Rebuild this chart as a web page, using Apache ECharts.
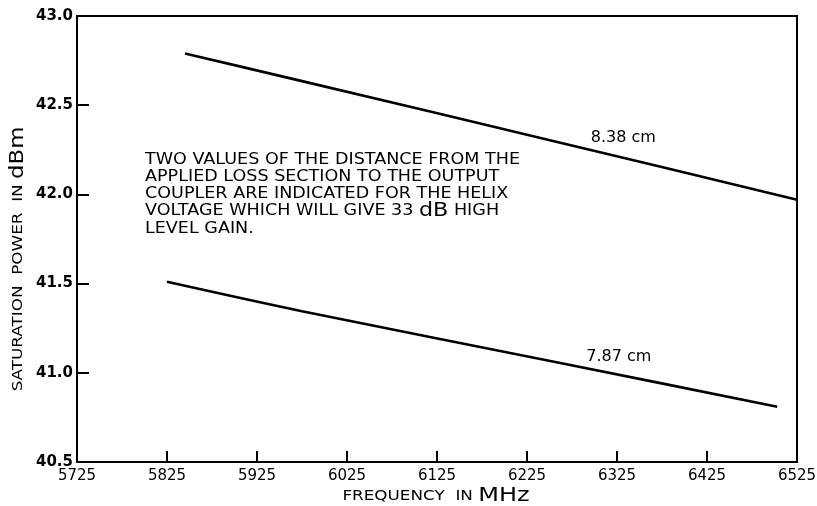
<!DOCTYPE html>
<html>
<head>
<meta charset="utf-8">
<script src="https://cdn.jsdelivr.net/npm/echarts@6/dist/echarts.min.js"></script>
<style>
html,body{margin:0;padding:0;background:#fff;}
#chart{width:817px;height:506px;}
</style>
</head>
<body>
<div id="chart"></div>
<script>
// ---- data ----
const freqTicks = [5725, 5825, 5925, 6025, 6125, 6225, 6325, 6425, 6525];
const powerTicks = [40.5, 41.0, 41.5, 42.0, 42.5, 43.0];

const upperFreq = [5845, 5975, 6262, 6525];
const upperPower = [42.79, 42.635, 42.29, 41.97];
const lowerFreq = [5825, 5975, 6262, 6503];
const lowerPower = [41.51, 41.345, 41.055, 40.81];

const curveLabels = ['8.38 cm', '7.87 cm'];
const curveLabelFreq = [6332, 6327];
const curveLabelPower = [42.316, 41.09];

const noteLines = [
  'TWO VALUES OF THE DISTANCE FROM THE',
  'APPLIED LOSS SECTION TO THE OUTPUT',
  'COUPLER ARE INDICATED FOR THE HELIX',
  'VOLTAGE WHICH WILL GIVE 33 {db|dB} HIGH',
  'LEVEL GAIN.'
];

// ---- chart ----
const FONT = '"DejaVu Sans", sans-serif';
const pair = (xs, ys) => xs.map((x, i) => [x, ys[i]]);

const chart = echarts.init(document.getElementById('chart'), null, {renderer: 'canvas'});

function lineSeries(xs, ys, label, lf, lp) {
  return {
    type: 'line',
    data: pair(xs, ys),
    showSymbol: false,
    symbol: 'none',
    smooth: 0.3,
    lineStyle: {color: '#000', width: 2.6},
    silent: true,
    markPoint: {
      symbol: 'circle',
      symbolSize: 0,
      silent: true,
      data: [{
        coord: [lf, lp],
        label: {
          show: true,
          position: 'inside',
          formatter: label,
          color: '#000',
          fontFamily: FONT,
          fontSize: 16
        }
      }]
    }
  };
}

chart.setOption({
  backgroundColor: '#fff',
  animation: false,
  grid: {
    left: 77, right: 20, top: 16, bottom: 44,
    outerBoundsMode: 'none',
    containLabel: false,
    show: true, borderColor: '#000', borderWidth: 2, backgroundColor: 'transparent'
  },
  xAxis: {
    type: 'value',
    min: freqTicks[0],
    max: freqTicks[freqTicks.length - 1],
    axisLine: {show: true, lineStyle: {color: '#000', width: 2}},
    axisTick: {show: true, inside: true, length: 11, lineStyle: {color: '#000', width: 2}, customValues: freqTicks},
    axisLabel: {
      customValues: freqTicks,
      color: '#000', fontFamily: FONT, fontSize: 15, margin: 7,
      formatter: v => String(v)
    },
    splitLine: {show: false}
  },
  yAxis: {
    type: 'value',
    min: powerTicks[0],
    max: powerTicks[powerTicks.length - 1],
    interval: 0.5,
    axisLine: {show: true, lineStyle: {color: '#000', width: 2}},
    axisTick: {show: true, inside: true, length: 12, lineStyle: {color: '#000', width: 2}},
    axisLabel: {
      color: '#000', fontFamily: FONT, fontSize: 15, fontWeight: 'bold', margin: 4,
      formatter: v => v.toFixed(1)
    },
    splitLine: {show: false}
  },
  graphic: [
    {
      type: 'text',
      x: 18, y: 259,
      rotation: Math.PI / 2,
      scaleX: 1.2,
      silent: true,
      style: {
        text: '{s|SATURATION  POWER  IN }{b|dBm}',
        align: 'center',
        verticalAlign: 'middle',
        rich: {
          s: {fontFamily: FONT, fontSize: 14, fill: '#000'},
          b: {fontFamily: FONT, fontSize: 19, fill: '#000'}
        }
      }
    },
    {
      type: 'text',
      x: 436, y: 496,
      scaleX: 1.2,
      silent: true,
      style: {
        text: '{s|FREQUENCY  IN }{b|MHz}',
        align: 'center',
        verticalAlign: 'middle',
        rich: {
          s: {fontFamily: FONT, fontSize: 14, fill: '#000'},
          b: {fontFamily: FONT, fontSize: 20, fill: '#000'}
        }
      }
    },
    {
      type: 'text',
      x: 145, y: 151,
      scaleX: 1.17,
      silent: true,
      style: {
        text: noteLines.join('\n'),
        align: 'left',
        verticalAlign: 'top',
        fontFamily: FONT,
        fontSize: 15,
        lineHeight: 17.3,
        fill: '#000',
        rich: {
          db: {fontFamily: FONT, fontSize: 19, fill: '#000', lineHeight: 17.3}
        }
      }
    }
  ],
  series: [
    lineSeries(upperFreq, upperPower, curveLabels[0], curveLabelFreq[0], curveLabelPower[0]),
    lineSeries(lowerFreq, lowerPower, curveLabels[1], curveLabelFreq[1], curveLabelPower[1])
  ]
});
</script>
</body>
</html>
